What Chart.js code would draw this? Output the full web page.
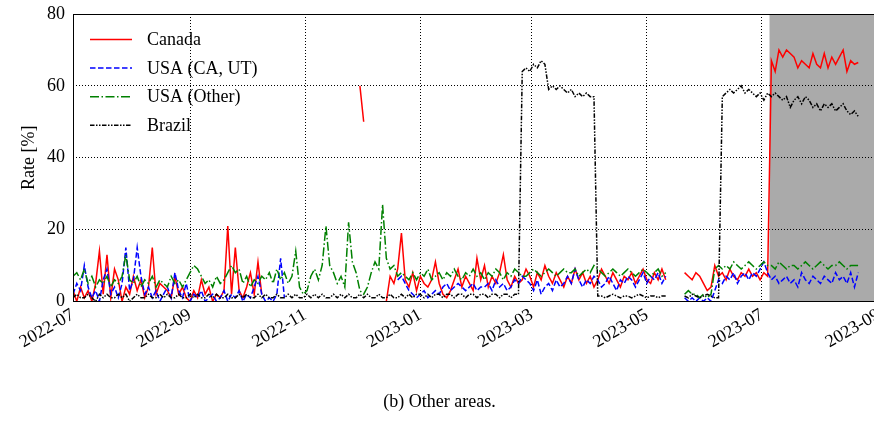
<!DOCTYPE html>
<html>
<head>
<meta charset="utf-8">
<title>Rate - Other areas</title>
<script src="https://cdn.jsdelivr.net/npm/chart.js@4.4.0/dist/chart.umd.min.js"></script>
<style>
  html, body { margin: 0; padding: 0; background: #fff; overflow: hidden; }
  #wrap { width: 884px; height: 421px; }
</style>
</head>
<body>
<div id="wrap"><canvas id="rateChart" width="884" height="421"></canvas></div>
<script>
// x = days since 2022-07-01, one sample every 2 days
const STEP = 2
const tickDays = [0, 62, 123, 184, 243, 304, 365, 427]
const tickLabels = ["2022-07", "2022-09", "2022-11", "2023-01", "2023-03", "2023-05", "2023-07", "2023-09"]
const yTicks = [0, 20, 40, 60, 80]
const shadeStartDay = 369

// Canada
const canadaA = [3, 0, 4, 1, 3, 0, 5, 14, 2, 13,
  1, 9, 6, 0, 4, 2, 7, 3, 6, 1,
  4, 15, 2, 5, 4, 3, 1, 7, 2, 4,
  1, 0, 3, 1, 6, 2, 4, 0, 2, 1,
  3, 21, 2, 15, 3, 1, 4, 8, 2, 11,
  2]
const canadaB = [60, 50]
const canadaC = [0, 7, 5, 9, 19, 6, 4, 8, 3, 7,
  5, 4, 6, 11, 5, 2, 1, 3, 6, 9,
  4, 7, 5, 3, 12, 6, 10, 4, 7, 5,
  8, 13, 6, 4, 7, 5, 6, 9, 7, 4,
  8, 6, 10, 7, 5, 8, 6, 4, 7, 5,
  9, 6, 8, 5, 7, 4, 6, 9, 7, 5,
  8, 6, 4, 7, 6, 8, 5, 7, 9, 6,
  5, 8, 6, 9, 6]
const canadaD = [8, 7, 6, 8, 7, 5, 3, 4, 10, 7,
  8, 6, 9, 7, 6, 8, 7, 9, 7, 8,
  6, 8, 7, 67, 64, 70, 68, 70, 69, 68,
  65, 67, 66, 65, 69, 66, 65, 69, 65, 68,
  66, 68, 70, 64, 67, 66, 66.5]

// USA (CA, UT)
const usaCaA = [2, 5, 3, 10, 4, 1, 3, 0, 6, 9,
  2, 4, 1, 5, 15, 3, 6, 15, 7, 2,
  4, 1, 3, 0, 2, 4, 1, 8, 3, 1,
  5, 0, 2, 1, 3, 0, 1, 2, 0, 1,
  3, 0, 2, 1, 3, 0, 2, 1, 4, 7,
  2, 0, 1, 0, 2, 12, 1]
const usaCaB = [6, 7, 5, 3, 2, 1, 2, 3, 1, 2,
  3, 2, 4, 5, 3, 4, 5, 4, 3, 4,
  5, 3, 4, 4, 5, 3, 6, 4, 5, 3,
  4, 6, 5, 7, 6, 5, 3, 6, 2, 4,
  5, 3, 6, 4, 5, 7, 5, 9, 6, 4,
  6, 5, 7, 6, 4, 5, 7, 5, 3, 6,
  5, 7, 6, 4, 6, 8, 5, 7, 6, 8,
  5, 7]
const usaCaC = [1, 0, 1, 0, 1, 0, 1, 0, 3, 6,
  5, 7, 6, 8, 5, 7, 8, 6, 8, 7,
  9, 11, 8, 6, 7, 5, 6, 7, 5, 6,
  4, 8, 6, 5, 7, 6, 5, 7, 6, 5,
  8, 6, 7, 5, 8, 4, 8]

// USA (Other)
const usaOtherA = [7, 8, 6, 9, 5, 7, 4, 6, 5, 7,
  4, 6, 5, 7, 13, 6, 5, 7, 4, 6,
  5, 7, 4, 6, 5, 4, 7, 5, 6, 4,
  6, 8, 10, 9, 7, 5, 6, 4, 7, 5,
  6, 8, 10, 8, 9, 5, 7, 4, 6, 5,
  7, 6, 8, 5, 9, 6, 8, 5, 7, 14,
  4, 2, 3, 7, 9, 6, 10, 21, 10, 8,
  5, 7, 4, 22, 11, 8, 3, 2, 4, 8,
  11, 9, 27, 12, 9, 10, 7, 8, 7, 6,
  8, 6, 8, 7, 9, 6, 7, 8, 6, 8,
  7, 9, 7, 6, 8, 7, 9, 7, 8, 6,
  8, 7, 9, 8, 6, 8, 7, 9, 8, 7,
  7, 8, 9, 8, 7, 8, 9, 8, 7, 8,
  9, 8, 8, 9, 7, 8, 9, 8, 10, 9,
  8, 7, 8, 9, 8, 7, 8, 9, 8, 7,
  8, 9, 8, 7, 8, 9, 7, 8]
const usaOtherB = [2, 3, 2, 2, 1, 2, 1, 2, 9, 10,
  9, 10, 9, 11, 10, 9, 10, 11, 10, 9,
  10, 11, 10, 10, 9, 11, 10, 9, 10, 10,
  9, 10, 11, 10, 9, 10, 11, 10, 9, 10,
  10, 11, 10, 9, 10, 10, 10]

// Brazil
const brazilA = [1, 2, 1, 1, 2, 1, 0, 2, 1, 2,
  1, 1, 2, 1, 2, 0, 1, 2, 1, 1,
  2, 1, 1, 2, 1, 2, 1, 1, 2, 1,
  1, 2, 1, 2, 1, 1, 2, 1, 2, 1,
  1, 2, 1, 1, 2, 1, 2, 1, 1, 2,
  1, 2, 1, 1, 2, 1, 1, 2, 1, 2,
  1, 1, 2, 1, 2, 1, 2, 1, 1, 2,
  1, 2, 1, 2, 1, 1, 2, 1, 2, 1,
  1, 2, 1, 1, 2, 1, 1, 2, 1, 2,
  1, 2, 2, 1, 2, 1, 2, 2, 1, 2,
  2, 1, 2, 2, 1, 2, 2, 1, 2, 2,
  1, 2, 2, 1, 2, 2, 1, 2, 2, 64,
  65, 64, 66, 65, 67, 66, 59, 60, 59, 60,
  59, 58, 59, 57, 58, 57, 58, 57, 57, 1.5,
  1.5, 1, 1.5, 2, 1.5, 1, 1.5, 1.5, 1, 1.5,
  2, 1.5, 1, 1.5, 1.5, 1, 1.5, 1.5]
const brazilB = [1.5, 1, 2, 1.5, 1, 1.5, 2, 1.5, 1, 1,
  57, 58, 59, 58, 59, 60, 58, 59, 58, 57,
  58, 56, 58, 57, 58, 57, 56, 57, 54, 56,
  57, 55, 57, 56, 54, 55, 53, 55, 54, 55,
  53, 54, 55, 53, 52, 53, 51.5]

const series = [
  {label: "Canada", color: "#ff0000", dash: [], order: 4,
    segments: [[0, canadaA], [152, canadaB], [166, canadaC], [324, canadaD]]},
  {label: "USA (CA, UT)", color: "#0000ff", dash: [5.5, 2.5], order: 3,
    segments: [[0, usaCaA], [172, usaCaB], [324, usaCaC]]},
  {label: "USA (Other)", color: "#008000", dash: [9, 2.5, 1.5, 2.5], order: 2,
    segments: [[0, usaOtherA], [324, usaOtherB]]},
  {label: "Brazil", color: "#000000", dash: [4.5, 1.5, 1.5, 1.5, 1.5, 1.5], order: 1,
    segments: [[0, brazilA], [324, brazilB]]}
]

const toPoints = (segments) => {
  const pts = []
  segments.forEach(([start, values], k) => {
    if (k > 0) pts.push({x: start - 1, y: null})
    values.forEach((v, i) => pts.push({x: start + i * STEP, y: v}))
  })
  return pts
}

const SERIF = "'Liberation Serif', 'DejaVu Serif', serif"
Chart.defaults.font.family = SERIF
Chart.defaults.color = "#000"

const shadePlugin = {
  id: "shade",
  beforeDraw(chart) {
    const {ctx, chartArea} = chart
    const x0 = chart.scales.x.getPixelForValue(shadeStartDay)
    ctx.save()
    ctx.fillStyle = "#aaaaaa"
    ctx.fillRect(x0, chartArea.top, chartArea.right - x0, chartArea.bottom - chartArea.top)
    ctx.restore()
  }
}

const framePlugin = {
  id: "frame",
  afterDraw(chart) {
    const {ctx, chartArea} = chart
    ctx.save()
    ctx.strokeStyle = "#000"
    ctx.lineWidth = 1
    ctx.setLineDash([])
    ctx.strokeRect(Math.round(chartArea.left) + 0.5, Math.round(chartArea.top) + 0.5,
      Math.round(chartArea.right - chartArea.left), Math.round(chartArea.bottom - chartArea.top))
    ctx.restore()
  }
}

const legendPlugin = {
  id: "insideLegend",
  afterDraw(chart) {
    const {ctx, chartArea} = chart
    ctx.save()
    chart.data.datasets.forEach((ds, i) => {
      const y = chartArea.top + 25.5 + i * 28.6
      ctx.beginPath()
      ctx.setLineDash(ds.borderDash)
      ctx.strokeStyle = ds.borderColor
      ctx.lineWidth = ds.borderWidth
      ctx.moveTo(chartArea.left + 17, y)
      ctx.lineTo(chartArea.left + 59, y)
      ctx.stroke()
      ctx.setLineDash([])
      ctx.fillStyle = "#000"
      ctx.font = "18px " + SERIF
      ctx.textBaseline = "middle"
      ctx.fillText(ds.label, chartArea.left + 74, y + 1)
    })
    ctx.restore()
  }
}

const rateChart = new Chart(document.getElementById("rateChart").getContext("2d"), {
  type: "line",
  data: {
    datasets: series.map(s => ({
      label: s.label,
      data: toPoints(s.segments),
      borderColor: s.color,
      backgroundColor: s.color,
      borderDash: s.dash,
      borderWidth: 1.5,
      pointRadius: 0,
      fill: false,
      tension: 0,
      spanGaps: false,
      order: s.order
    }))
  },
  options: {
    responsive: false,
    animation: false,
    devicePixelRatio: 1,
    layout: {padding: {left: 0, right: 5, top: 14, bottom: 0}},
    plugins: {
      legend: {display: false},
      tooltip: {enabled: false},
      title: {
        display: true,
        position: "bottom",
        text: "(b) Other areas.",
        font: {size: 18, weight: "normal", family: SERIF},
        color: "#000",
        padding: {top: 0, bottom: 8}
      }
    },
    scales: {
      x: {
        type: "linear",
        min: tickDays[0],
        max: tickDays[tickDays.length - 1],
        afterBuildTicks: (scale) => {
          scale.ticks = tickDays.map(v => ({value: v}))
        },
        afterFit: (scale) => {
          scale.height = 90
          scale.paddingLeft = 0
          scale.paddingRight = 0
        },
        ticks: {
          autoSkip: false,
          minRotation: 30,
          maxRotation: 30,
          padding: 3,
          font: {size: 18},
          callback: (value) => tickLabels[tickDays.indexOf(value)]
        },
        grid: {color: "#000", lineWidth: 1, drawTicks: false},
        border: {display: false, dash: [1, 2]}
      },
      y: {
        min: yTicks[0],
        max: yTicks[yTicks.length - 1],
        afterBuildTicks: (scale) => {
          scale.ticks = yTicks.map(v => ({value: v}))
        },
        afterFit: (scale) => {
          scale.width = 73
          scale.paddingTop = 0
          scale.paddingBottom = 0
        },
        ticks: {padding: 8, font: {size: 18}},
        grid: {color: "#000", lineWidth: 1, drawTicks: false},
        border: {display: false, dash: [1, 2]},
        title: {
          display: true,
          text: "Rate [%]",
          font: {size: 18},
          color: "#000",
          padding: {top: 18, bottom: 0}
        }
      }
    }
  },
  plugins: [shadePlugin, legendPlugin, framePlugin]
})
</script>
</body>
</html>
